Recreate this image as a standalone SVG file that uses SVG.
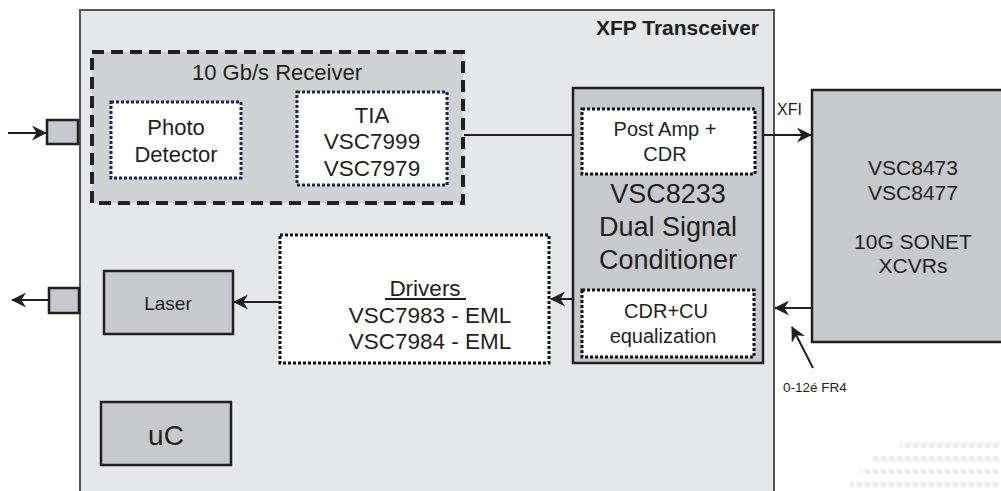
<svg xmlns="http://www.w3.org/2000/svg" width="1001" height="491" viewBox="0 0 1001 491">
<defs>
<style>
text{font-family:"Liberation Sans",Arial,sans-serif;fill:#231f20;text-anchor:middle}
.blk{fill:#c8c9cc;stroke:#231f20;stroke-width:2.5}
.dot{fill:#fff;stroke:#111;stroke-width:3;stroke-dasharray:3 2}
.dotn{fill:#fff;stroke:#22225a;stroke-width:3;stroke-dasharray:3 2}
.ln{stroke:#231f20;stroke-width:2;fill:none}
.wm{fill:#ececec}
</style>
<marker id="ah" viewBox="0 0 16 16" refX="15" refY="8" markerWidth="16" markerHeight="15" markerUnits="userSpaceOnUse" orient="auto">
<path d="M0,0 L16,8 L0,16 L5,8 z" fill="#231f20"/>
</marker>
<pattern id="wmp" x="0" y="0" width="8" height="13" patternUnits="userSpaceOnUse">
<rect x="1" y="1" width="5" height="5" class="wm"/>
</pattern>
</defs>
<rect width="1001" height="491" fill="#fff"/>
<g id="watermark">
<rect x="900" y="442" width="101" height="8" fill="url(#wmp)"/>
<rect x="870" y="455" width="131" height="8" fill="url(#wmp)"/>
<rect x="860" y="468" width="141" height="8" fill="url(#wmp)"/>
<rect x="850" y="481" width="151" height="10" fill="url(#wmp)"/>
</g>
<g id="xfp">
<rect x="80" y="10" width="694" height="500" fill="#e6e7e9" stroke="#555" stroke-width="2"/>
<text x="759" y="35" style="font-weight:bold;font-size:21px;text-anchor:end">XFP Transceiver</text>
</g>
<g id="receiver">
<rect x="92" y="52" width="371" height="151" fill="#d1d2d4" stroke="#231f20" stroke-width="4" stroke-dasharray="12 7"/>
<text x="277" y="80" style="font-size:22px">10 Gb/s Receiver</text>
</g>
<g id="photo">
<rect x="111" y="102" width="130" height="76" class="dotn"/>
<text x="176" y="135" style="font-size:22px">Photo</text>
<text x="176" y="162" style="font-size:22px">Detector</text>
</g>
<g id="tia">
<rect x="297" y="92" width="150" height="93" class="dotn"/>
<text x="372" y="123" style="font-size:22.5px">TIA</text>
<text x="372" y="149" style="font-size:22.5px">VSC7999</text>
<text x="372" y="176" style="font-size:22.5px">VSC7979</text>
</g>
<g id="vsc8233">
<rect x="573" y="88" width="190" height="275" class="blk"/>
<text x="668" y="203" style="font-size:27px">VSC8233</text>
<text x="668" y="236" style="font-size:27px">Dual Signal</text>
<text x="668" y="269" style="font-size:27px">Conditioner</text>
</g>
<g id="postamp">
<rect x="582" y="109" width="173" height="65" class="dot"/>
<text x="665" y="136" style="font-size:20px">Post Amp +</text>
<text x="665" y="161" style="font-size:20px">CDR</text>
</g>
<g id="cdrcu">
<rect x="582" y="290" width="172" height="67" class="dot"/>
<text x="666" y="318" style="font-size:20px">CDR+CU</text>
<text x="663" y="343" style="font-size:20px">equalization</text>
</g>
<g id="drivers">
<rect x="280" y="235" width="269" height="128" class="dot"/>
<text x="425" y="296" style="font-size:22.5px">Drivers</text>
<line x1="385" y1="299" x2="466" y2="299" stroke="#231f20" stroke-width="2"/>
<text x="430" y="323" style="font-size:22.5px">VSC7983 - EML</text>
<text x="430" y="349" style="font-size:22.5px">VSC7984 - EML</text>
</g>
<g id="laser">
<rect x="104" y="271" width="129" height="63" class="blk"/>
<text x="168" y="310" style="font-size:19px">Laser</text>
</g>
<g id="uc">
<rect x="101" y="402" width="130" height="63" class="blk"/>
<text x="166" y="445" style="font-size:28px">uC</text>
</g>
<g id="xcvr">
<rect x="812" y="90" width="200" height="252" class="blk"/>
<text x="913" y="175" style="font-size:21px">VSC8473</text>
<text x="913" y="200" style="font-size:21px">VSC8477</text>
<text x="913" y="249" style="font-size:21px">10G SONET</text>
<text x="913" y="273" style="font-size:21px">XCVRs</text>
</g>
<g id="inport">
<rect x="47" y="120" width="31" height="24" class="blk"/>
</g>
<g id="outport">
<rect x="49" y="288" width="30" height="25" class="blk"/>
</g>
<g id="labels">
<text x="777" y="115" style="font-size:16px;text-anchor:start">XFI</text>
<text x="783" y="392" style="font-size:13.5px;text-anchor:start">0-12é FR4</text>
</g>
<g id="connectors">
<line x1="8" y1="133" x2="46" y2="133" class="ln" marker-end="url(#ah)"/>
<line x1="464" y1="135" x2="573" y2="135" class="ln"/>
<line x1="763" y1="135" x2="811" y2="135" class="ln" marker-end="url(#ah)"/>
<line x1="812" y1="308" x2="775" y2="308" class="ln" marker-end="url(#ah)"/>
<line x1="573" y1="299" x2="551" y2="299" class="ln" marker-end="url(#ah)"/>
<line x1="279" y1="302" x2="234" y2="302" class="ln" marker-end="url(#ah)"/>
<line x1="49" y1="300" x2="12" y2="300" class="ln" marker-end="url(#ah)"/>
<line x1="813" y1="368" x2="792" y2="327" class="ln" marker-end="url(#ah)"/>
</g>
</svg>
